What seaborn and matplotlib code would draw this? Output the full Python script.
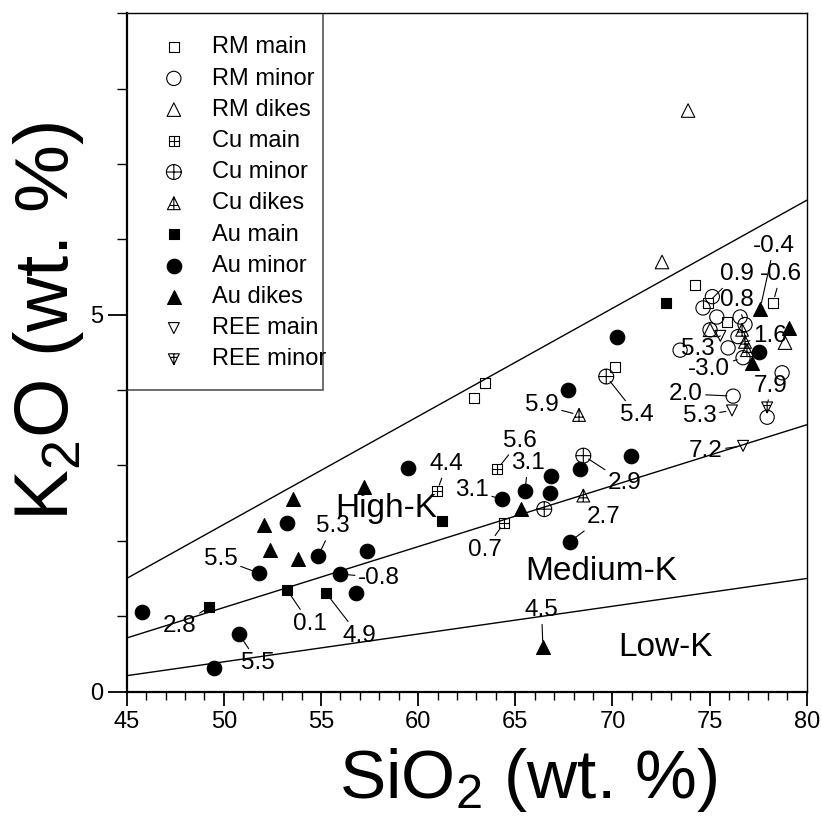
import numpy as np
import pandas as pd
import matplotlib
matplotlib.use("Agg")
import matplotlib.pyplot as plt
from matplotlib.path import Path
from matplotlib.patches import Rectangle
from matplotlib.ticker import FixedLocator
import seaborn as sns

# ---------------- data: SiO2 / K2O (wt. %) per sample group ----------------
rm_main_sio2 = [63.44, 62.87, 70.13, 74.25, 78.26, 75.89, 74.92]
rm_main_k2o = [4.10, 3.89, 4.31, 5.39, 5.16, 4.91, 5.16]

rm_minor_sio2 = [74.66, 75.14, 75.37, 75.02, 76.57, 76.82, 76.46, 75.95, 73.48, 76.72, 78.73, 76.21, 77.96]
rm_minor_k2o = [5.09, 5.24, 4.97, 4.80, 4.97, 4.87, 4.71, 4.56, 4.53, 4.43, 4.23, 3.92, 3.64]

rm_dikes_sio2 = [73.89, 72.55, 78.88, 75.02]
rm_dikes_k2o = [7.71, 5.70, 4.63, 4.80]

cu_main_sio2 = [60.98, 64.07, 64.43]
cu_main_k2o = [2.66, 2.95, 2.24]

cu_minor_sio2 = [69.68, 68.50, 66.49]
cu_minor_k2o = [4.18, 3.13, 2.42]

cu_dikes_sio2 = [68.28, 68.50, 76.67, 76.82, 76.92]
cu_dikes_k2o = [3.67, 2.60, 4.80, 4.64, 4.53]

au_main_sio2 = [72.76, 61.23, 53.25, 49.24, 55.25]
au_main_k2o = [5.15, 2.26, 1.35, 1.12, 1.31]

au_minor_sio2 = [45.79, 51.81, 53.25, 50.78, 49.49, 54.85, 57.37, 55.98, 56.80, 59.48,
                 64.32, 65.50, 66.84, 66.79, 68.33, 67.70, 70.22, 70.94, 67.81, 77.54]
au_minor_k2o = [1.06, 1.57, 2.24, 0.76, 0.31, 1.80, 1.87, 1.56, 1.31, 2.97,
                2.55, 2.66, 2.86, 2.64, 2.95, 4.00, 4.71, 3.13, 1.99, 4.51]

au_dikes_sio2 = [53.56, 52.07, 52.38, 53.81, 57.21, 65.29, 66.42, 77.60, 79.09, 77.16]
au_dikes_k2o = [2.56, 2.21, 1.88, 1.76, 2.72, 2.42, 0.59, 5.08, 4.83, 4.36]

ree_main_sio2 = [76.15, 76.72, 75.55]
ree_main_k2o = [3.73, 3.26, 4.72]

ree_minor_sio2 = [77.96]
ree_minor_k2o = [3.77]

group_names = ["RM main", "RM minor", "RM dikes", "Cu main", "Cu minor", "Cu dikes",
               "Au main", "Au minor", "Au dikes", "REE main", "REE minor"]

# series boundaries (Low-K / Medium-K / High-K)
bound_sio2 = [45, 80]
high_k_line = [1.50, 6.52]
medium_k_line = [0.71, 3.54]
low_k_line = [0.21, 1.50]

# numeric annotations with their sample positions
note_text = ["2.8", "5.5", "5.5", "0.1", "4.9", "5.3", "-0.8", "4.4", "3.1", "5.6", "3.1",
             "0.7", "2.9", "2.7", "4.5", "5.9", "5.4", "-0.4", "0.9", "-0.6", "0.8", "1.6",
             "5.3", "-3.0", "2.0", "7.9", "5.3", "7.2"]
note_x = [47.72, 49.83, 51.77, 54.43, 56.96, 55.59, 57.99, 61.47, 62.76, 65.24, 65.65,
          63.44, 70.65, 69.54, 66.35, 66.35, 71.25, 78.31, 76.39, 78.67, 76.39, 78.11,
          74.38, 74.97, 73.76, 78.13, 74.48, 74.79]
note_y = [0.87, 1.76, 0.38, 0.90, 0.74, 2.19, 1.51, 3.02, 2.67, 3.33, 3.03,
          1.88, 2.77, 2.32, 1.08, 3.80, 3.67, 5.91, 5.54, 5.54, 5.19, 4.72,
          4.55, 4.28, 3.95, 4.06, 3.66, 3.19]
sample_x = [49.24, 51.81, 50.78, 53.25, 55.25, 54.85, 55.98, 60.98, 64.32, 64.07, 65.50,
            64.43, 68.50, 67.81, 66.42, 68.28, 69.68, 77.60, 74.92, 78.26, 76.82, 76.82,
            75.55, 76.72, 76.21, 77.96, 76.15, 76.72]
sample_y = [1.12, 1.57, 0.76, 1.35, 1.31, 1.80, 1.56, 2.66, 2.55, 2.95, 2.66,
            2.24, 3.13, 1.99, 0.59, 3.67, 4.18, 5.08, 5.16, 5.16, 4.87, 4.64,
            4.72, 4.43, 3.92, 3.77, 3.73, 3.26]

# ---------------- marker shapes ----------------
M, L, C = Path.MOVETO, Path.LINETO, Path.CLOSEPOLY


def with_cross(outline, hbar_y=0.0, hbar_half=1.0, vbar=(-1.0, 1.0)):
    cross = Path([(-hbar_half, hbar_y), (hbar_half, hbar_y), (0, vbar[0]), (0, vbar[1])],
                 [M, L, M, L])
    return Path.make_compound_path(outline, cross)


square_outline = Path([(-1, -1), (1, -1), (1, 1), (-1, 1), (-1, -1)], [M, L, L, L, C])
tri_up_outline = Path([(0, 1), (-1, -1), (1, -1), (0, 1)], [M, L, L, C])
tri_dn_outline = Path([(0, -1), (-1, 1), (1, 1), (0, -1)], [M, L, L, C])

square_cross = with_cross(square_outline)
circle_cross = with_cross(Path.unit_circle())
tri_up_cross = with_cross(tri_up_outline, hbar_y=-0.35, hbar_half=0.67, vbar=(-1, 1))
tri_dn_cross = with_cross(tri_dn_outline, hbar_y=0.35, hbar_half=0.67, vbar=(-1, 1))

style = {
    "RM main":   dict(marker="s", s=52, filled=False),
    "RM minor":  dict(marker="o", s=105, filled=False),
    "RM dikes":  dict(marker="^", s=95, filled=False),
    "Cu main":   dict(marker=square_cross, s=52, filled=False),
    "Cu minor":  dict(marker=circle_cross, s=115, filled=False),
    "Cu dikes":  dict(marker=tri_up_cross, s=85, filled=False),
    "Au main":   dict(marker="s", s=62, filled=True),
    "Au minor":  dict(marker="o", s=110, filled=True),
    "Au dikes":  dict(marker="^", s=100, filled=True),
    "REE main":  dict(marker="v", s=62, filled=False),
    "REE minor": dict(marker=tri_dn_cross, s=62, filled=False),
}

series = {
    "RM main": (rm_main_sio2, rm_main_k2o),
    "RM minor": (rm_minor_sio2, rm_minor_k2o),
    "RM dikes": (rm_dikes_sio2, rm_dikes_k2o),
    "Cu main": (cu_main_sio2, cu_main_k2o),
    "Cu minor": (cu_minor_sio2, cu_minor_k2o),
    "Cu dikes": (cu_dikes_sio2, cu_dikes_k2o),
    "Au main": (au_main_sio2, au_main_k2o),
    "Au minor": (au_minor_sio2, au_minor_k2o),
    "Au dikes": (au_dikes_sio2, au_dikes_k2o),
    "REE main": (ree_main_sio2, ree_main_k2o),
    "REE minor": (ree_minor_sio2, ree_minor_k2o),
}

# ---------------- figure ----------------
sns.set_style("ticks")
plt.rcParams["font.family"] = ["Liberation Sans", "DejaVu Sans"]
plt.rcParams["mathtext.default"] = "regular"
plt.rcParams["mathtext.fontset"] = "custom"
plt.rcParams["mathtext.rm"] = "Liberation Sans"
for key in ("text.color", "axes.labelcolor", "xtick.color", "ytick.color", "axes.edgecolor"):
    plt.rcParams[key] = "black"

fig = plt.figure(figsize=(8.22, 8.39), dpi=100)
ax = fig.add_axes([0.1541, 0.1758, 0.8274, 0.8083])

for ys in (high_k_line, medium_k_line, low_k_line):
    sns.lineplot(x=bound_sio2, y=ys, color="black", linewidth=1.0, ax=ax, zorder=2)

for name in group_names:
    xs, ys = series[name]
    st = style[name]
    df = pd.DataFrame({"SiO2": xs, "K2O": ys})
    sns.scatterplot(data=df, x="SiO2", y="K2O", marker=st["marker"], s=st["s"],
                    color="black", facecolor="black" if st["filled"] else "none",
                    edgecolor="black", linewidth=0.8, label=name, ax=ax, zorder=3)

for t, tx, ty, px, py in zip(note_text, note_x, note_y, sample_x, sample_y):
    ax.annotate(t, xy=(px, py), xytext=(tx, ty), ha="center", va="center",
                fontsize=17.5, color="black", zorder=4,
                arrowprops=dict(arrowstyle="-", color="black", lw=0.8,
                                shrinkA=0, shrinkB=4.5))

ax.text(55.73, 2.32, "High-K", fontsize=24, ha="left", va="baseline")
ax.text(65.5, 1.48, "Medium-K", fontsize=24, ha="left", va="baseline")
ax.text(70.29, 0.47, "Low-K", fontsize=24, ha="left", va="baseline")

# legend frame
ax.add_patch(Rectangle((45, 4), 10.1, 5.0, facecolor="none", edgecolor="#555555",
                       linewidth=1.2, zorder=1))
ax.legend(loc="upper left", bbox_to_anchor=(0.052, 0.966), frameon=False,
          fontsize=17, handlelength=1.0, handletextpad=1.1, labelspacing=0.39,
          borderpad=0, borderaxespad=0, scatterpoints=1)

ax.set_xlim(45, 80)
ax.set_ylim(0, 9)
ax.xaxis.set_major_locator(FixedLocator([45, 50, 55, 60, 65, 70, 75, 80]))
ax.xaxis.set_minor_locator(FixedLocator(list(range(45, 81))))
ax.yaxis.set_major_locator(FixedLocator([0, 5]))
ax.yaxis.set_minor_locator(FixedLocator([1, 2, 3, 4, 6, 7, 8, 9]))
ax.tick_params(axis="x", which="major", direction="out", length=10, width=1.3,
               labelsize=17, pad=4)
ax.tick_params(axis="x", which="minor", direction="out", length=6, width=1.0)
ax.tick_params(axis="y", which="major", direction="out", length=14, width=1.3,
               labelsize=17, pad=3)
ax.tick_params(axis="y", which="minor", direction="out", length=7.5, width=1.0)

for side in ("left", "bottom"):
    ax.spines[side].set_linewidth(1.6)
for side in ("top", "right"):
    ax.spines[side].set_linewidth(1.0)

ax.set_xlabel("SiO$_2$ (wt. %)", fontsize=50)
ax.set_ylabel("K$_2$O (wt. %)", fontsize=55)
ax.xaxis.set_label_coords(0.59, -0.08)
ax.yaxis.set_label_coords(-0.06, 0.545)

fig.savefig("out.png", dpi=100)
